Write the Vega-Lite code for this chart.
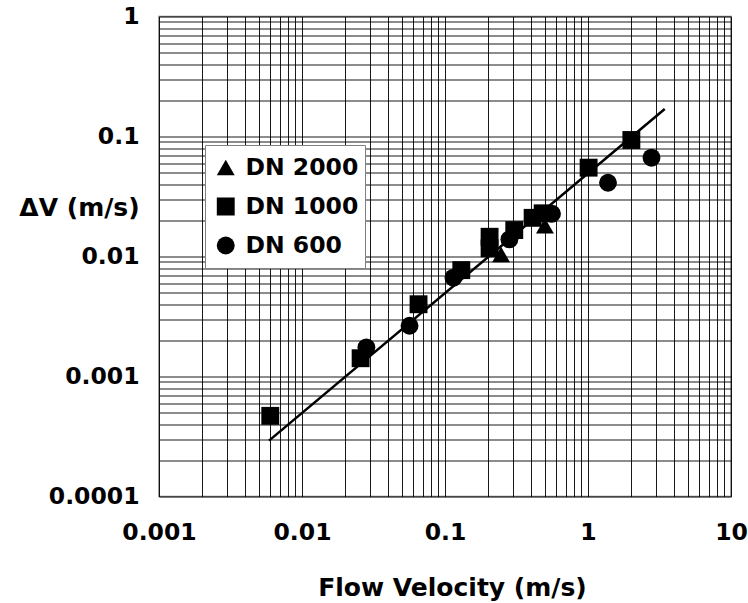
{
  "$schema": "https://vega.github.io/schema/vega-lite/v6.json",
  "width": 572,
  "height": 480,
  "autosize": {"type": "none"},
  "padding": {"left": 159, "top": 16.5, "right": 17, "bottom": 106.5},
  "background": "white",
  "config": {
    "view": {"stroke": "#808080", "strokeWidth": 1.5},
    "font": "DejaVu Sans"
  },
  "datasets": {
    "pts": [
      {"series": "DN 1000", "v": 0.006, "dv": 0.00047},
      {"series": "DN 1000", "v": 0.0257, "dv": 0.00142},
      {"series": "DN 1000", "v": 0.0653, "dv": 0.0040},
      {"series": "DN 1000", "v": 0.130, "dv": 0.0077},
      {"series": "DN 1000", "v": 0.205, "dv": 0.0146},
      {"series": "DN 1000", "v": 0.205, "dv": 0.0117},
      {"series": "DN 1000", "v": 0.305, "dv": 0.0166},
      {"series": "DN 1000", "v": 0.41, "dv": 0.021},
      {"series": "DN 1000", "v": 0.482, "dv": 0.0229},
      {"series": "DN 1000", "v": 1.01, "dv": 0.055},
      {"series": "DN 1000", "v": 2.01, "dv": 0.0935},
      {"series": "DN 600", "v": 0.0282, "dv": 0.00175},
      {"series": "DN 600", "v": 0.0565, "dv": 0.00265},
      {"series": "DN 600", "v": 0.1146, "dv": 0.00666},
      {"series": "DN 600", "v": 0.282, "dv": 0.0139},
      {"series": "DN 600", "v": 0.56, "dv": 0.0227},
      {"series": "DN 600", "v": 1.38, "dv": 0.0412},
      {"series": "DN 600", "v": 2.78, "dv": 0.0666},
      {"series": "DN 2000", "v": 0.2466, "dv": 0.0104},
      {"series": "DN 2000", "v": 0.50, "dv": 0.018}
    ],
    "fit": [
      {"v": 0.00588, "dv": 0.000292},
      {"v": 3.44, "dv": 0.1695}
    ]
  },
  "layer": [
    {
      "data": {"name": "fit"},
      "mark": {"type": "line", "color": "black", "strokeWidth": 2.5},
      "encoding": {
        "x": {
          "field": "v", "type": "quantitative",
          "scale": {"type": "log", "domain": [0.001, 10], "nice": false},
          "axis": {
            "values": [0.001,0.002,0.003,0.004,0.005,0.006,0.007,0.008,0.009,0.01,0.02,0.03,0.04,0.05,0.06,0.07,0.08,0.09,0.1,0.2,0.3,0.4,0.5,0.6,0.7,0.8,0.9,1,2,3,4,5,6,7,8,9,10],
            "format": "~g",
            "labelExpr": "indexof(['0.001','0.01','0.1','1','10'], datum.label) >= 0 ? datum.label : ''",
            "grid": true, "gridColor": "black", "gridOpacity": 0.9, "gridWidth": 1,
            "ticks": false, "domain": false,
            "labelFont": "DejaVu Sans", "labelFontWeight": "bold", "labelFontSize": 23.5, "labelColor": "black",
            "labelPadding": 24, "labelOverlap": false, "labelFlush": false, "labelBound": false,
            "title": "Flow Velocity (m/s)",
            "titleFont": "DejaVu Sans", "titleFontWeight": "bold", "titleFontSize": 25, "titleColor": "black",
            "titleBaseline": "middle", "titleX": 293, "titleY": 91, "titleAlign": "center"
          }
        },
        "y": {
          "field": "dv", "type": "quantitative",
          "scale": {"type": "log", "domain": [0.0001, 1], "nice": false},
          "axis": {
            "values": [0.0001,0.0002,0.0003,0.0004,0.0005,0.0006,0.0007,0.0008,0.0009,0.001,0.002,0.003,0.004,0.005,0.006,0.007,0.008,0.009,0.01,0.02,0.03,0.04,0.05,0.06,0.07,0.08,0.09,0.1,0.2,0.3,0.4,0.5,0.6,0.7,0.8,0.9,1],
            "format": "~g",
            "labelExpr": "indexof(['0.0001','0.001','0.01','0.1','1'], datum.label) >= 0 ? datum.label : ''",
            "grid": true, "gridColor": "black", "gridOpacity": 0.9, "gridWidth": 1,
            "ticks": false, "domain": false,
            "labelFont": "DejaVu Sans", "labelFontWeight": "bold", "labelFontSize": 23.5, "labelColor": "black",
            "labelPadding": 20, "labelOverlap": false, "labelFlush": false, "labelBound": false,
            "title": "ΔV (m/s)",
            "titleFont": "DejaVu Sans", "titleFontWeight": "bold", "titleFontSize": 25, "titleColor": "black",
            "titleAngle": 0, "titleAlign": "center", "titleBaseline": "middle",
            "titleX": -80, "titleY": 191
          }
        }
      }
    },
    {
      "data": {"name": "pts"},
      "mark": {"type": "point", "filled": true, "opacity": 1, "size": 320, "color": "black", "strokeWidth": 0},
      "encoding": {
        "x": {"field": "v", "type": "quantitative"},
        "y": {"field": "dv", "type": "quantitative"},
        "shape": {
          "field": "series", "type": "nominal",
          "scale": {"domain": ["DN 2000", "DN 1000", "DN 600"], "range": ["triangle-up", "square", "circle"]},
          "legend": {
            "title": null,
            "orient": "none",
            "legendX": 46,
            "legendY": 128.5,
            "padding": 6,
            "clipHeight": 33,
            "fillColor": "white",
            "strokeColor": "#808080",
            "symbolSize": 320,
            "symbolOffset": 3,
            "symbolFillColor": "black",
            "symbolStrokeWidth": 0,
            "labelFont": "DejaVu Sans",
            "labelFontWeight": "bold",
            "labelFontSize": 23.5,
            "labelColor": "black",
            "labelOffset": 8,
            "rowPadding": 6,
            "encode": {"legend": {"update": {"strokeWidth": {"value": 1.5}}}}
          }
        }
      }
    }
  ]
}
